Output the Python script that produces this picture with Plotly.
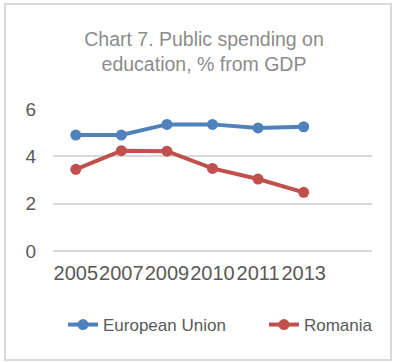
import plotly.graph_objects as go

years = ["2005", "2007", "2009", "2010", "2011", "2013"]
eu_values = [4.9, 4.9, 5.35, 5.35, 5.2, 5.25]
ro_values = [3.45, 4.24, 4.22, 3.49, 3.04, 2.48]
series_names = ["European Union", "Romania"]
series_colors = ["#4f81bd", "#c0504d"]
y_ticks = [0, 2, 4, 6]

W, H = 397, 362
L, R, T, B = 53, 25, 109, 111
pw, ph = W - L - R, H - T - B

def px_to_paper_x(px):
    return (px - L) / pw

def px_to_paper_y(py):
    return (H - B - py) / ph

legend_pad = "\u00a0" * 7

fig = go.Figure()
for i, (name, vals, col) in enumerate(zip(series_names, [eu_values, ro_values], series_colors)):
    fig.add_trace(go.Scatter(
        x=years, y=vals, name=name + (legend_pad if i == 0 else ""),
        mode="lines+markers",
        line=dict(color=col, width=4),
        marker=dict(color=col, size=11),
    ))

fig.update_layout(
    width=W, height=H,
    margin=dict(l=L, r=R, t=T, b=B),
    paper_bgcolor="white", plot_bgcolor="white",
    font=dict(family="Liberation Sans, Arial, sans-serif", color="#595959"),
    title=dict(
        text="Chart 7. Public spending on<br>education, % from GDP",
        font=dict(size=19.5, color="#8c8c8c"),
        x=204 / W, xanchor="center", xref="container",
        y=1 - 46 / H, yanchor="top", yref="container",
    ),
    xaxis=dict(
        type="category", range=[-0.5, 6.5],
        showgrid=False, showline=False, zeroline=False,
        tickfont=dict(size=20, color="#595959"), tickangle=0,
        ticks="", ticklabelstandoff=8,
    ),
    yaxis=dict(
        range=[0, 6], tickvals=y_ticks,
        showgrid=True, gridcolor="#d9d9d9", gridwidth=1.5,
        zeroline=True, zerolinecolor="#d9d9d9", zerolinewidth=1.5,
        showline=False, ticks="",
        tickfont=dict(size=19, color="#595959"), ticklabelstandoff=16,
    ),
    legend=dict(
        orientation="h", x=px_to_paper_x(63), xanchor="left",
        y=px_to_paper_y(325), yanchor="middle",
        font=dict(size=17, color="#595959"),
        bgcolor="rgba(0,0,0,0)",
    ),
    shapes=[dict(
        type="rect", xref="paper", yref="paper",
        x0=px_to_paper_x(5), x1=px_to_paper_x(391),
        y0=px_to_paper_y(360), y1=px_to_paper_y(4),
        line=dict(color="#d9d9d9", width=2), fillcolor="rgba(0,0,0,0)",
        layer="below",
    )],
)

fig.write_html("out.html")
